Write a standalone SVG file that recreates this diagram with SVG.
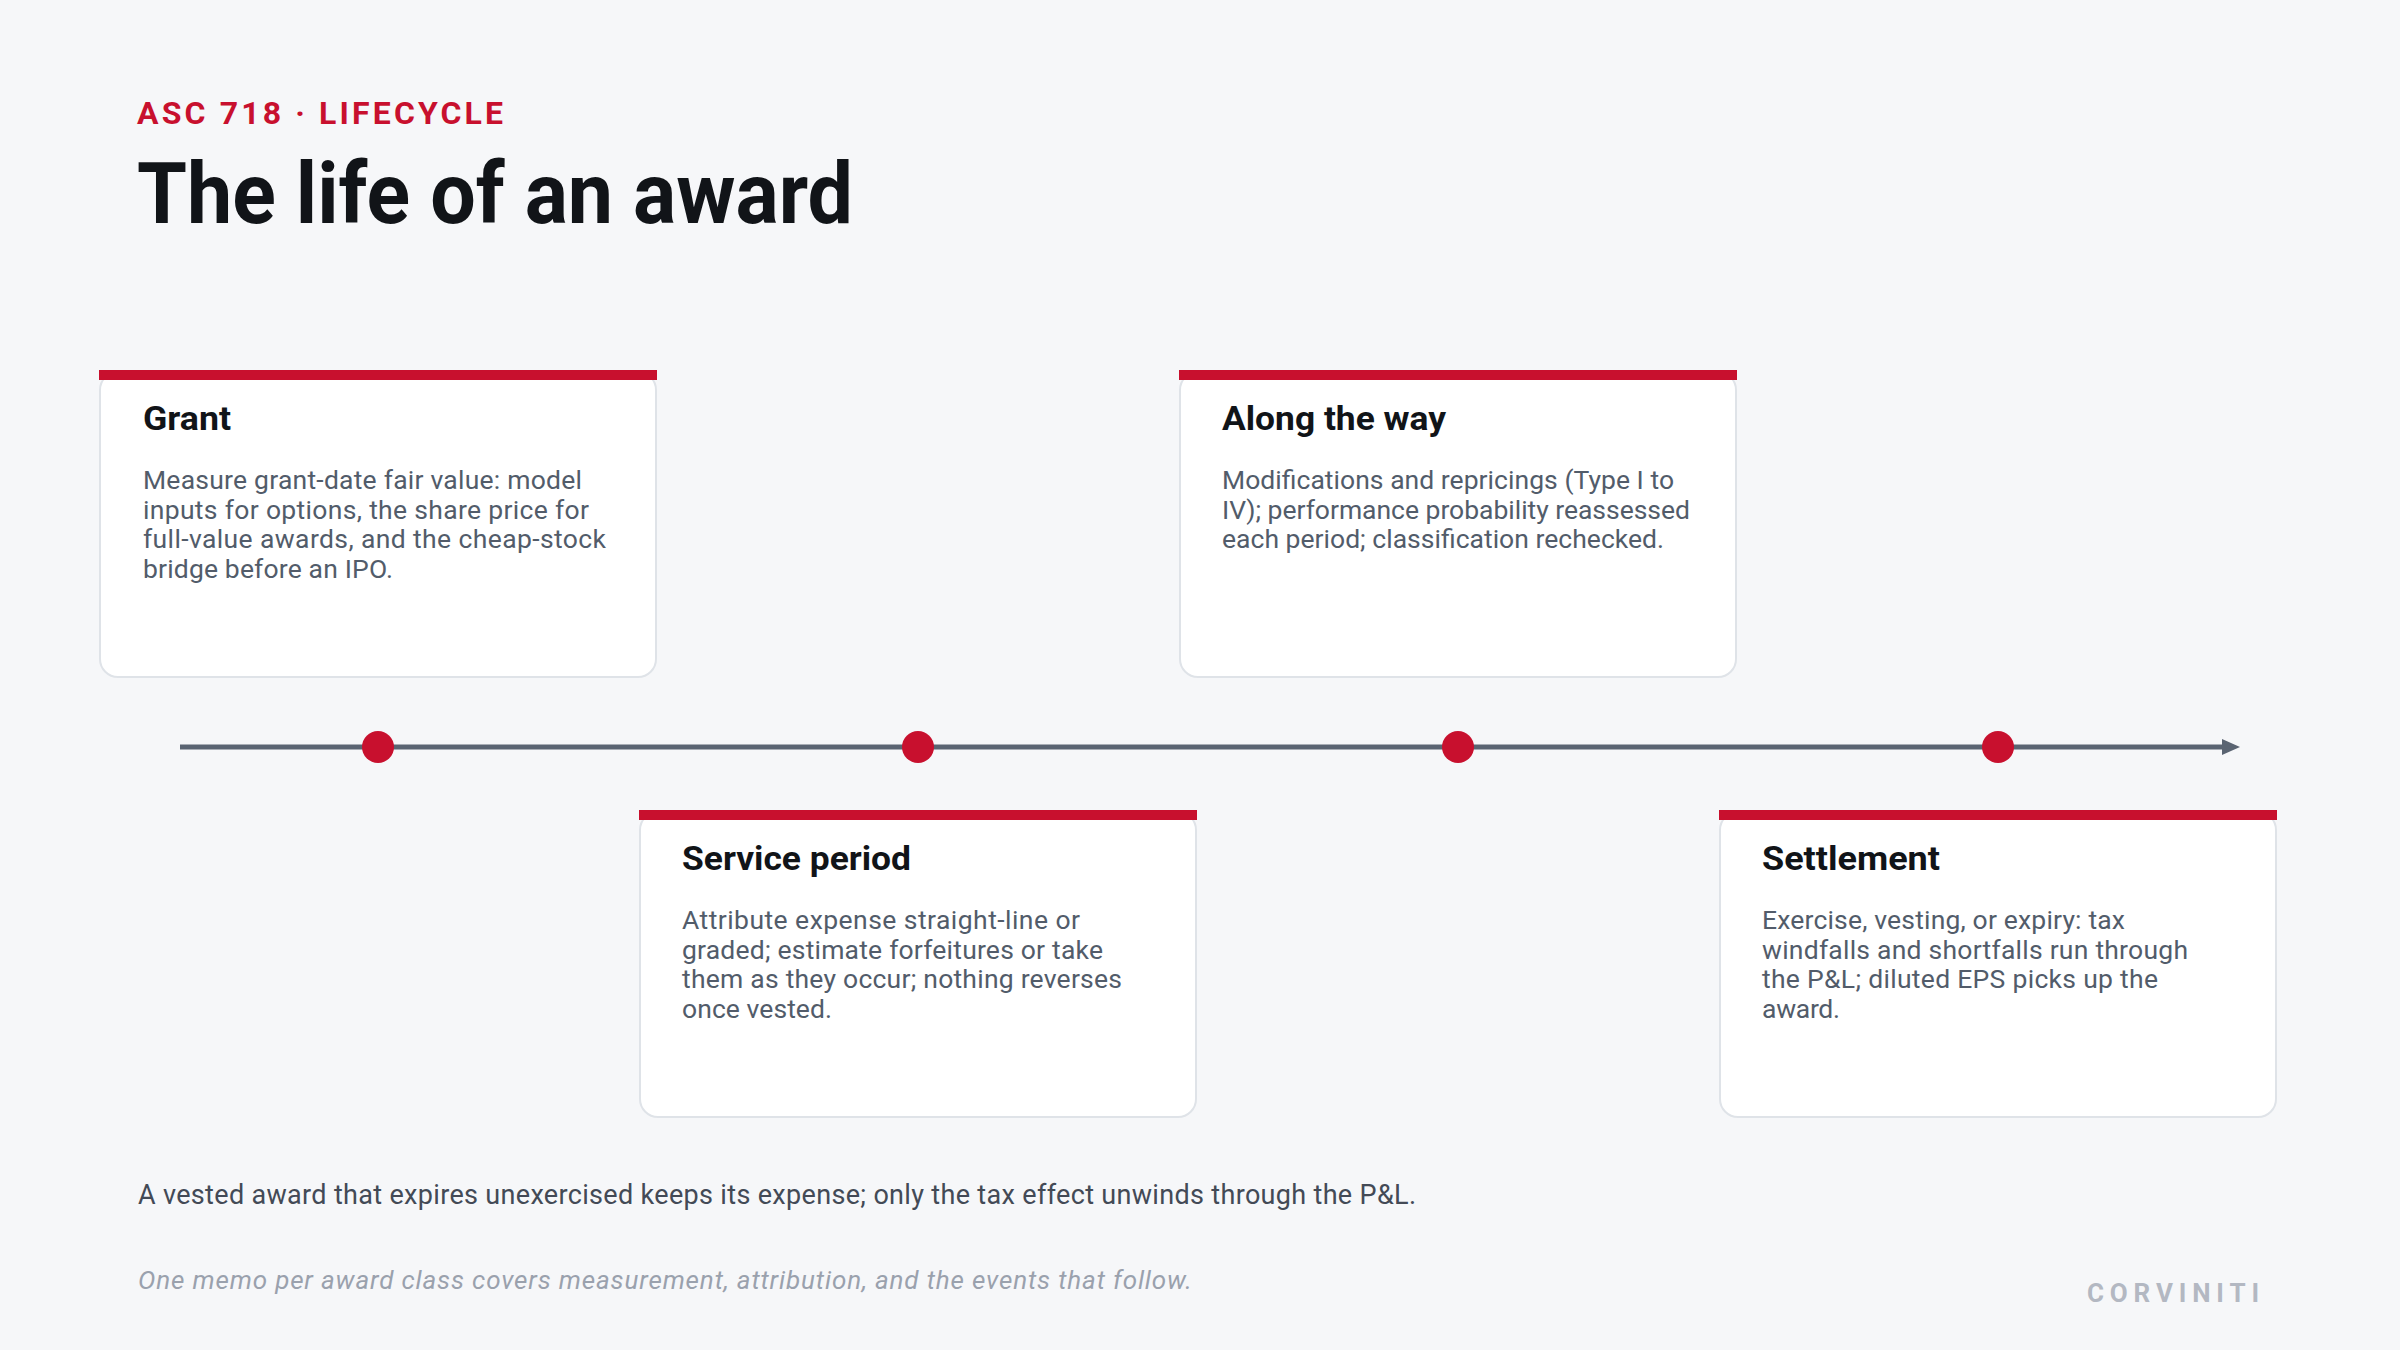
<svg xmlns="http://www.w3.org/2000/svg" width="2400" height="1350" viewBox="0 0 2400 1350">
  <defs>
    <style>
      .kicker { font-family: Roboto, "Liberation Sans", sans-serif; font-weight: 700; font-size: 32px; fill: #c8102e; }
      .title { font-family: Roboto, "Liberation Sans", sans-serif; font-weight: 700; font-size: 85px; fill: #111418; }
      .bar { fill: #c8102e; }
      .card { fill: #ffffff; stroke: #dfe3e8; stroke-width: 2; }
      .ctitle { font-family: Roboto, "Liberation Sans", sans-serif; font-weight: 700; font-size: 34px; fill: #111418; }
      .cbody { font-family: Roboto, "Liberation Sans", sans-serif; font-weight: 400; font-size: 26.5px; fill: #525c6a; }
      .dot { fill: #c8102e; }
      .axis { stroke: #5a6472; stroke-width: 5; fill: none; }
      .note { font-family: Roboto, "Liberation Sans", sans-serif; font-size: 27px; fill: #434a56; }
      .memo { font-family: Roboto, "Liberation Sans", sans-serif; font-style: italic; font-size: 26px; fill: #9aa1ad; }
      .brand { font-family: Roboto, "Liberation Sans", sans-serif; font-weight: 700; font-size: 26px; fill: #b3b8c2; }
    </style>
    <marker id="arrow" markerUnits="userSpaceOnUse" markerWidth="20" markerHeight="18" refX="0" refY="8" orient="auto">
      <path d="M0,0 L18,8 L0,16 Z" fill="#5a6472"/>
    </marker>
  </defs>

  <rect x="0" y="0" width="2400" height="1350" fill="#f6f7f9"/>

  <g id="header">
    <text class="kicker" x="137" y="124" textLength="366" lengthAdjust="spacing">ASC 718 · LIFECYCLE</text>
    <text class="title" x="137" y="223" textLength="716" lengthAdjust="spacingAndGlyphs">The life of an award</text>
  </g>

  <g id="connectors">
    <line class="axis" x1="180" y1="747" x2="2222" y2="747" marker-end="url(#arrow)"/>
  </g>

  <g id="milestones">
    <circle class="dot" cx="378" cy="747" r="16"/>
    <circle class="dot" cx="918" cy="747" r="16"/>
    <circle class="dot" cx="1458" cy="747" r="16"/>
    <circle class="dot" cx="1998" cy="747" r="16"/>
  </g>

  <g id="grant">
    <rect class="card" x="100" y="372" width="556" height="305" rx="18"/>
    <rect class="bar" x="99" y="370" width="558" height="10"/>
    <text class="ctitle" x="143" y="430" textLength="88" lengthAdjust="spacingAndGlyphs">Grant</text>
    <text class="cbody" x="143" y="489" textLength="439">Measure grant-date fair value: model</text>
    <text class="cbody" x="143" y="518.5" textLength="446">inputs for options, the share price for</text>
    <text class="cbody" x="143" y="548" textLength="463">full-value awards, and the cheap-stock</text>
    <text class="cbody" x="143" y="577.5" textLength="250">bridge before an IPO.</text>
  </g>

  <g id="service-period">
    <rect class="card" x="640" y="812" width="556" height="305" rx="18"/>
    <rect class="bar" x="639" y="810" width="558" height="10"/>
    <text class="ctitle" x="682" y="870" textLength="229" lengthAdjust="spacingAndGlyphs">Service period</text>
    <text class="cbody" x="682" y="929" textLength="398">Attribute expense straight-line or</text>
    <text class="cbody" x="682" y="958.5" textLength="421">graded; estimate forfeitures or take</text>
    <text class="cbody" x="682" y="988" textLength="440">them as they occur; nothing reverses</text>
    <text class="cbody" x="682" y="1017.5" textLength="150">once vested.</text>
  </g>

  <g id="along-the-way">
    <rect class="card" x="1180" y="372" width="556" height="305" rx="18"/>
    <rect class="bar" x="1179" y="370" width="558" height="10"/>
    <text class="ctitle" x="1222" y="430" textLength="224" lengthAdjust="spacingAndGlyphs">Along the way</text>
    <text class="cbody" x="1222" y="489" textLength="452">Modifications and repricings (Type I to</text>
    <text class="cbody" x="1222" y="518.5" textLength="468">IV); performance probability reassessed</text>
    <text class="cbody" x="1222" y="548" textLength="442">each period; classification rechecked.</text>
  </g>

  <g id="settlement">
    <rect class="card" x="1720" y="812" width="556" height="305" rx="18"/>
    <rect class="bar" x="1719" y="810" width="558" height="10"/>
    <text class="ctitle" x="1762" y="870" textLength="178" lengthAdjust="spacingAndGlyphs">Settlement</text>
    <text class="cbody" x="1762" y="929" textLength="363">Exercise, vesting, or expiry: tax</text>
    <text class="cbody" x="1762" y="958.5" textLength="426">windfalls and shortfalls run through</text>
    <text class="cbody" x="1762" y="988" textLength="396">the P&amp;L; diluted EPS picks up the</text>
    <text class="cbody" x="1762" y="1017.5" textLength="78">award.</text>
  </g>

  <g id="footer">
    <text class="note" x="138" y="1204" textLength="1278">A vested award that expires unexercised keeps its expense; only the tax effect unwinds through the P&amp;L.</text>
    <text class="memo" x="138" y="1289" textLength="1054">One memo per award class covers measurement, attribution, and the events that follow.</text>
    <text class="brand" x="2087" y="1302" textLength="172" lengthAdjust="spacing">CORVINITI</text>
  </g>
</svg>
